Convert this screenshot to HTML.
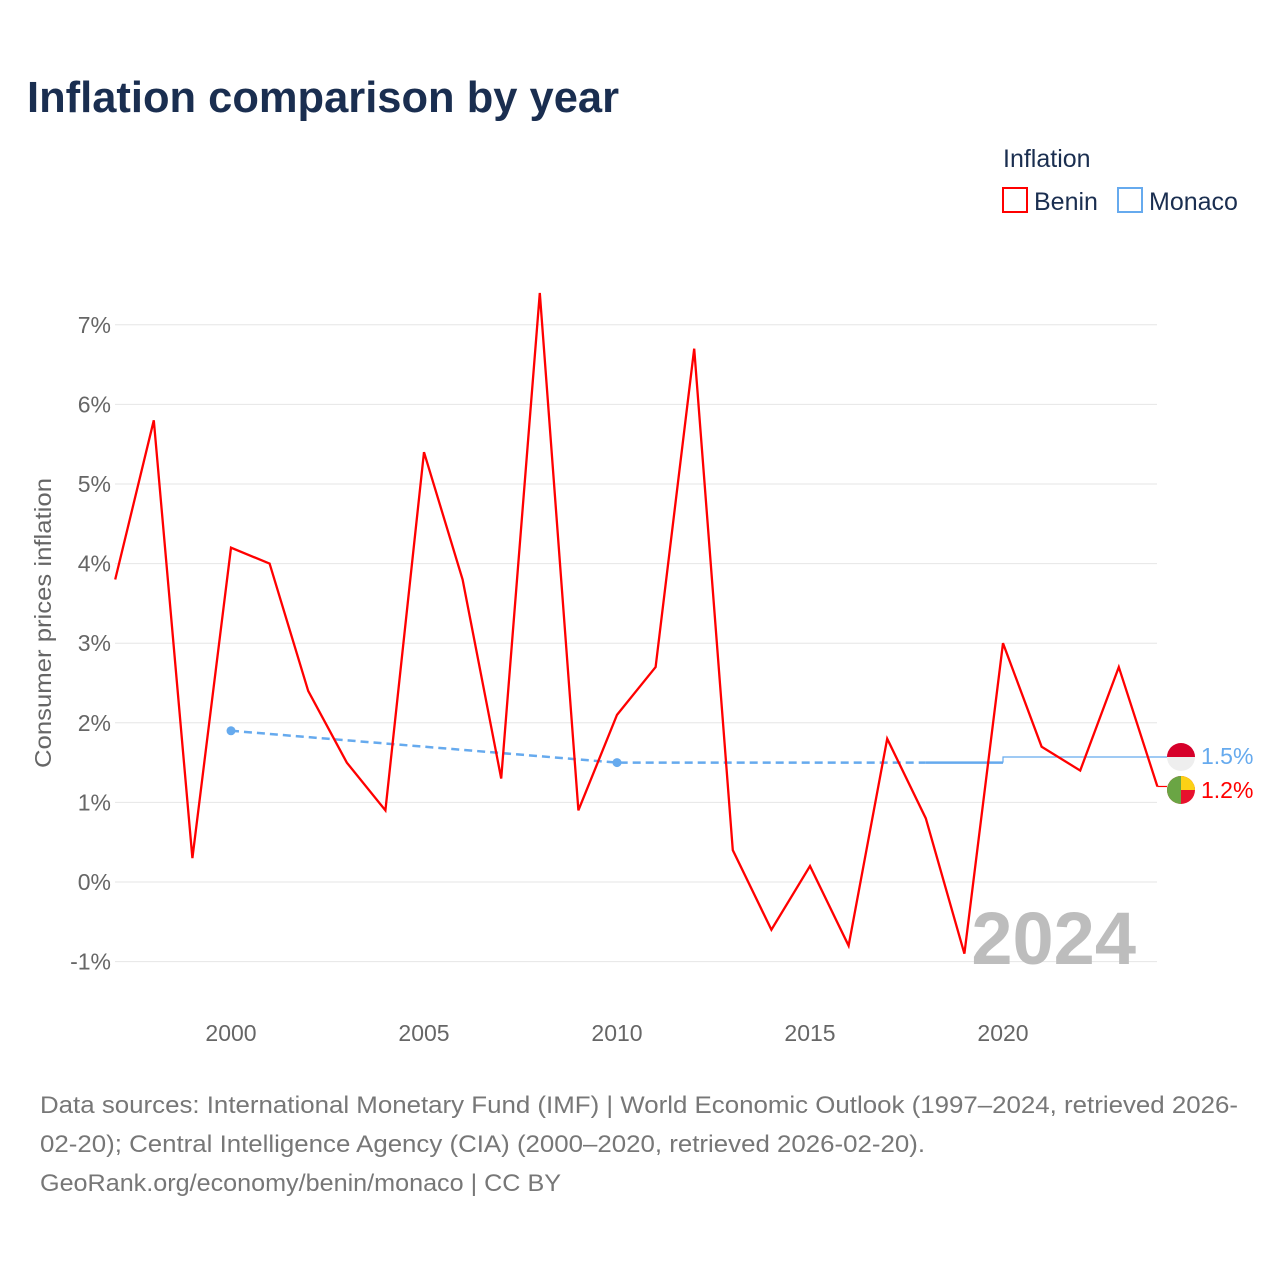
<!DOCTYPE html>
<html><head><meta charset="utf-8"><style>
body{margin:0;background:#fff;font-family:"Liberation Sans",sans-serif;}
svg{display:block}
</style></head><body>
<svg id="chart" width="1280" height="1280" xmlns="http://www.w3.org/2000/svg">
<text x="27" y="112" font-size="44" font-weight="bold" fill="#1a2e50" textLength="592" lengthAdjust="spacingAndGlyphs">Inflation comparison by year</text>
<text x="1003" y="167" font-size="25" fill="#1a2e50">Inflation</text>
<rect x="1003" y="188" width="24" height="24" fill="none" stroke="#ff0000" stroke-width="2"/>
<text x="1034" y="210" font-size="25" fill="#1a2e50">Benin</text>
<rect x="1118" y="188" width="24" height="24" fill="none" stroke="#66aaee" stroke-width="2"/>
<text x="1149" y="210" font-size="25" fill="#1a2e50">Monaco</text>
<text transform="translate(51,623) rotate(-90)" text-anchor="middle" font-size="23" fill="#666" textLength="290" lengthAdjust="spacingAndGlyphs">Consumer prices inflation</text>
<g id="grid"></g><g id="marks"></g>
<text x="1136" y="964" text-anchor="end" font-size="74" font-weight="bold" fill="#bdbdbd">2024</text>
<text font-size="24" fill="#777">
<tspan x="40" y="1113" textLength="1198" lengthAdjust="spacingAndGlyphs">Data sources: International Monetary Fund (IMF) | World Economic Outlook (1997–2024, retrieved 2026-</tspan>
<tspan x="40" y="1152" textLength="885" lengthAdjust="spacingAndGlyphs">02-20); Central Intelligence Agency (CIA) (2000–2020, retrieved 2026-02-20).</tspan>
<tspan x="40" y="1191" textLength="521" lengthAdjust="spacingAndGlyphs">GeoRank.org/economy/benin/monaco | CC BY</tspan></text>
</svg>
<script>
const years=[1997,1998,1999,2000,2001,2002,2003,2004,2005,2006,2007,2008,2009,2010,2011,2012,2013,2014,2015,2016,2017,2018,2019,2020,2021,2022,2023,2024];
const benin=[3.8,5.8,0.3,4.2,4.0,2.4,1.5,0.9,5.4,3.8,1.3,7.4,0.9,2.1,2.7,6.7,0.4,-0.6,0.2,-0.8,1.8,0.8,-0.9,3.0,1.7,1.4,2.7,1.2];
const monacoYears=[2000,2010,2020];
const monaco=[1.9,1.5,1.5];
const monacoLatest=1.57;
const yTicks=[-1,0,1,2,3,4,5,6,7];
const xTicks=[2000,2005,2010,2015,2020];
const NS="http://www.w3.org/2000/svg";
const X=y=>115.2+(y-1997)*38.6;
const Y=v=>882-v*79.6;
const grid=document.getElementById('grid'),marks=document.getElementById('marks');
function mk(tag,attrs,parent){const e=document.createElementNS(NS,tag);for(const k in attrs)e.setAttribute(k,attrs[k]);parent.appendChild(e);return e;}
yTicks.forEach(t=>{
 const l=mk('line',{x1:115,x2:1157,y1:Y(t),y2:Y(t),stroke:'#e6e6e6','stroke-width':1},grid);
 
 
 const tx=mk('text',{x:111,y:Y(t)+8,'text-anchor':'end','font-size':23,fill:'#666'},grid);
 tx.textContent=t+'%';
 
 
});
xTicks.forEach(t=>{
 const tx=mk('text',{x:X(t),y:1041,'text-anchor':'middle','font-size':23,fill:'#666'},grid);
 tx.textContent=t;
 
 
});
const m1=mk('path',{d:'M'+X(monacoYears[0])+','+Y(monaco[0])+' L'+X(monacoYears[1])+','+Y(monaco[1])+' L'+X(2018)+','+Y(monaco[2]),fill:'none',stroke:'#66aaee','stroke-width':2.5,'stroke-dasharray':'8,5'},marks);


const m2=mk('path',{d:'M'+X(2018)+','+Y(monaco[2])+' L'+X(monacoYears[2])+','+Y(monaco[2]),fill:'none',stroke:'#66aaee','stroke-width':2.5},marks);


const m3=mk('path',{d:'M'+X(2020)+','+Y(monaco[2])+' V'+Y(monacoLatest)+' H1167',fill:'none',stroke:'#66aaee','stroke-width':1.2},marks);


monacoYears.slice(0,2).forEach((y,i)=>{
 const c=mk('circle',{cx:X(y),cy:Y(monaco[i]),r:4.5,fill:'#66aaee'},marks);
 
 
});
const bp=mk('path',{d:years.map((y,i)=>(i?'L':'M')+X(y)+','+Y(benin[i])).join(' '),fill:'none',stroke:'#ff0000','stroke-width':2.3,'stroke-linejoin':'miter'},marks);


const bl=mk('path',{d:'M'+X(2024)+','+Y(benin[benin.length-1])+' H1167',fill:'none',stroke:'#ff0000','stroke-width':1.2},marks);


const fm=mk('g',{},marks);


const cyM=757;
mk('circle',{cx:1181,cy:cyM,r:14,fill:'#eeeeee'},fm);
mk('path',{d:`M1167,${cyM} A14,14 0 0 1 1195,${cyM} Z`,fill:'#d6002a'},fm);
const fb=mk('g',{},marks);


const cyB=790;
mk('circle',{cx:1181,cy:cyB,r:14,fill:'#e8112d'},fb);
mk('path',{d:`M1181,${cyB-14} A14,14 0 0 0 1181,${cyB+14} Z`,fill:'#6aa544'},fb);
mk('path',{d:`M1181,${cyB-14} A14,14 0 0 1 1195,${cyB} H1181 Z`,fill:'#fcd116'},fb);
const lm=mk('text',{x:1201,y:764,'font-size':23,fill:'#66aaee'},marks);
lm.textContent=monaco[monaco.length-1].toFixed(1)+'%';


const lb=mk('text',{x:1201,y:798,'font-size':23,fill:'#ff0000'},marks);
lb.textContent=benin[benin.length-1].toFixed(1)+'%';


</script>
</body></html>
